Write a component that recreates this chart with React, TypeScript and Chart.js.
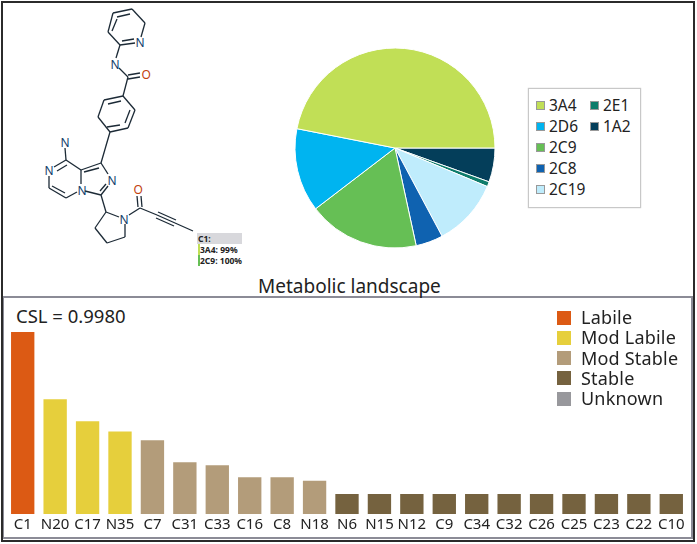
import React, { useEffect, useRef } from "react";
import { Chart, registerables } from "chart.js";

Chart.register(...registerables);

const FONT = '"Noto Sans", sans-serif';
const INK = "#222222";

// Pie, listed counter-clockwise from 3 o'clock as in the legend
const enzymeNames = ["3A4", "2D6", "2C9", "2C8", "2C19", "2E1", "1A2"];
const enzymeShares = [46.9, 13.5, 18.0, 4.4, 10.9, 0.8, 5.5];
const enzymeColors = ["#C1DF56", "#00B4F0", "#66BF55", "#0F62B0", "#BFECFC", "#0E7C6B", "#043E5A"];

// Bars
const siteLabels = ["C1", "N20", "C17", "N35", "C7", "C31", "C33", "C16", "C8", "N18", "N6", "N15", "N12", "C9", "C34", "C32", "C26", "C25", "C23", "C22", "C10"];
const siteValues = [1.0, 0.63, 0.51, 0.453, 0.405, 0.284, 0.268, 0.202, 0.202, 0.183, 0.11, 0.11, 0.11, 0.11, 0.11, 0.11, 0.11, 0.11, 0.11, 0.11, 0.11];
const siteClasses = [0, 1, 1, 1, 2, 2, 2, 2, 2, 2, 3, 3, 3, 3, 3, 3, 3, 3, 3, 3, 3];
const classNames = ["Labile", "Mod Labile", "Mod Stable", "Stable", "Unknown"];
const classColors = ["#DC5A14", "#E6CF3C", "#B39C7A", "#75623F", "#98989C"];

const BLUE = "#14416B";
const RED = "#C2410C";
const bonds: number[][] = [
  [113, 13, 132, 9], [132, 9, 145, 23], [145, 23, 141, 37], [135, 43, 120, 45], [120, 45, 108, 32], [108, 32, 113, 13],
  [117, 17, 130, 14], [112, 31, 117, 19], [122, 41, 134, 39], [120, 45, 116, 58], [119, 68, 128, 77],
  [128, 75, 140, 73], [128, 79, 140, 77], [128, 77, 123, 96],
  [123, 96, 135, 110], [135, 110, 128, 128], [128, 128, 110, 132], [110, 132, 98, 117], [98, 117, 104, 100], [104, 100, 123, 96],
  [108, 104, 121, 101], [130, 110, 125, 123], [107, 127, 120, 125],
  [110, 132, 101, 163], [101, 163, 108, 174], [108, 186, 101, 195], [101, 195, 85, 191], [81, 184, 81, 170], [81, 170, 101, 163],
  [84, 172, 99, 168], [100, 191, 106, 184],
  [81, 170, 66, 160], [66, 160, 54, 167], [49, 176, 49, 188], [49, 188, 66, 198], [66, 198, 77, 192],
  [67, 165, 57, 171], [52, 186, 65, 193], [66, 160, 65, 148], 
  [101, 195, 106, 212], [106, 212, 119, 217], [125, 224, 125, 237], [125, 237, 107, 243], [107, 243, 95, 228], [95, 228, 106, 212],
  [129, 215, 140, 208], [140, 208, 157, 215], [157, 215, 175, 223], [175, 223, 193, 231],
  [158, 212, 176, 220], [156, 218, 174, 226], [138, 207, 137, 196], [142, 207, 141, 196],
];
const atomLabels: [string, number, number, string][] = [
  ["N", 140, 42, BLUE], ["N", 115, 64, BLUE], ["O", 146, 74, RED], ["N", 65, 142, BLUE],
  ["N", 49, 170, BLUE], ["N", 112, 180, BLUE], ["N", 82, 190, BLUE], ["O", 138, 189, RED], ["N", 124, 219, BLUE],
];

export default function App() {
  const pieRef = useRef<HTMLCanvasElement>(null);
  const barRef = useRef<HTMLCanvasElement>(null);

  useEffect(() => {
    const order = enzymeNames.map((_, i) => enzymeNames.length - 1 - i);
    const pie = new Chart(pieRef.current!, {
      type: "pie",
      data: {
        labels: order.map((i) => enzymeNames[i]),
        datasets: [{
          data: order.map((i) => enzymeShares[i]),
          backgroundColor: order.map((i) => enzymeColors[i]),
          borderColor: "#FFFFFF",
          borderWidth: 1,
        }],
      },
      options: {
        animation: false,
        responsive: false,
        maintainAspectRatio: false,
        rotation: 90,
        radius: 100,
        layout: { padding: 0 },
        plugins: { legend: { display: false }, tooltip: { enabled: false } },
      },
    });
    const bar = new Chart(barRef.current!, {
      type: "bar",
      data: {
        labels: siteLabels,
        datasets: [{
          data: siteValues,
          backgroundColor: siteClasses.map((c) => classColors[c]),
          barPercentage: 0.72,
          categoryPercentage: 1,
        }],
      },
      options: {
        animation: false,
        responsive: false,
        maintainAspectRatio: false,
        layout: { padding: { left: 0.5, right: 0.5, top: 12, bottom: 0 } },
        plugins: { legend: { display: false }, tooltip: { enabled: false } },
        scales: {
          y: { display: false, min: 0, max: 1 },
          x: {
            afterFit: (s: any) => { s.height = 21; },
            border: { display: false },
            grid: { display: false, drawTicks: false },
            ticks: { autoSkip: false, maxRotation: 0, minRotation: 0, padding: 2, color: INK, font: { family: FONT, size: 15 } },
          },
        },
      },
    });
    return () => { pie.destroy(); bar.destroy(); };
  }, []);

  const abs = (s: React.CSSProperties): React.CSSProperties => ({ position: "absolute", whiteSpace: "nowrap", fontFamily: FONT, color: INK, lineHeight: 1, ...s });
  const col1 = enzymeNames.slice(0, 5);
  const col2 = enzymeNames.slice(5);

  return (
    <div style={{ position: "absolute", left: 0, top: 0, width: 697, height: 544, background: "#fff", overflow: "hidden" }}>
      <div style={{ position: "absolute", left: 1, top: 1, width: 694, height: 541, boxSizing: "border-box", border: "2px solid #2b2b2b" }} />
      <div style={{ position: "absolute", left: 3, top: 296, width: 690, height: 243, boxSizing: "border-box", border: "2px solid #8b8b96", borderLeft: "1px solid #8b8b96" }} />

      <svg width={250} height={280} style={{ position: "absolute", left: 0, top: 0 }}>
        {bonds.map((b, i) => (
          <line key={i} x1={b[0]} y1={b[1]} x2={b[2]} y2={b[3]} stroke="#1c2a36" strokeWidth={1.3} />
        ))}
        {atomLabels.map((a, i) => (
          <text key={i} x={a[1] - 4.5} y={a[2] + 4.5} fill={a[3]} fontFamily={FONT} fontSize={12}>{a[0]}</text>
        ))}
        <rect x={197} y={233} width={45} height={11} fill="#D8D8DC" />
        <rect x={198} y={244} width={2} height={11} fill={enzymeColors[0]} />
        <rect x={198} y={255} width={2} height={11} fill={enzymeColors[2]} />
        <text x={198} y={242} fill="#222" fontFamily={FONT} fontSize={8.5} fontWeight={700}>C1:</text>
        <text x={200} y={253} fill="#222" fontFamily={FONT} fontSize={8.5} fontWeight={700}>3A4: 99%</text>
        <text x={200} y={264} fill="#222" fontFamily={FONT} fontSize={8.5} fontWeight={700}>2C9: 100%</text>
      </svg>

      <canvas ref={pieRef} width={210} height={210} style={{ position: "absolute", left: 290, top: 43, width: 210, height: 210 }} />

      <div style={{ position: "absolute", left: 528, top: 88, width: 113, height: 120, boxSizing: "border-box", border: "1px solid #c8c8c8", boxShadow: "0 0 1px #bbb" }} />
      {col1.map((n, i) => (
        <React.Fragment key={n}>
          <div style={{ position: "absolute", left: 536, top: 101 + i * 21, width: 9, height: 9, boxSizing: "border-box", background: enzymeColors[i], border: "1px solid #999" }} />
          <div style={abs({ left: 549, top: 97.5 + i * 21, fontSize: 15.5 })}>{n}</div>
        </React.Fragment>
      ))}
      {col2.map((n, i) => (
        <React.Fragment key={n}>
          <div style={{ position: "absolute", left: 590, top: 101 + i * 21, width: 9, height: 9, boxSizing: "border-box", background: enzymeColors[5 + i], border: "1px solid #999" }} />
          <div style={abs({ left: 603, top: 97.5 + i * 21, fontSize: 15.5 })}>{n}</div>
        </React.Fragment>
      ))}

      <div style={abs({ left: 258, top: 277, fontSize: 19 })}>Metabolic landscape</div>
      <div style={abs({ left: 16, top: 307, fontSize: 18.5 })}>CSL = 0.9980</div>

      <canvas ref={barRef} width={682} height={215} style={{ position: "absolute", left: 6, top: 320, width: 682, height: 215 }} />

      {classNames.map((n, i) => (
        <React.Fragment key={n}>
          <div style={{ position: "absolute", left: 557, top: 310.5 + i * 20.3, width: 14, height: 14, background: classColors[i] }} />
          <div style={abs({ left: 581, top: 308 + i * 20.3, fontSize: 18, letterSpacing: 0.2 })}>{n}</div>
        </React.Fragment>
      ))}
    </div>
  );
}
